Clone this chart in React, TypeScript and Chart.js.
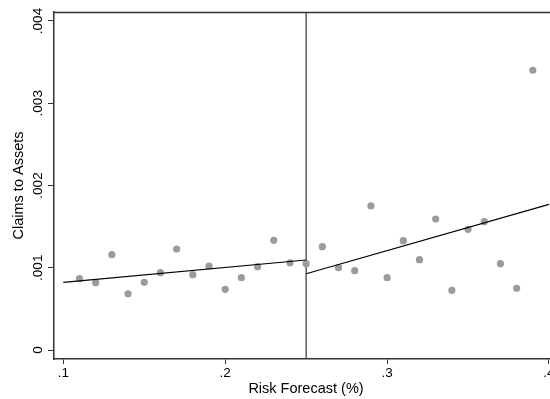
import React, { useEffect, useRef } from "react";
import { Chart, registerables } from "chart.js";

Chart.register(...registerables);

const riskForecast = [
  0.11, 0.12, 0.13, 0.14, 0.15, 0.16, 0.17, 0.18, 0.19, 0.2,
  0.21, 0.22, 0.23, 0.24, 0.25, 0.26, 0.27, 0.28, 0.29, 0.3,
  0.31, 0.32, 0.33, 0.34, 0.35, 0.36, 0.37, 0.38, 0.39,
];
const claimsToAssets = [
  0.000867, 0.000818, 0.001159, 0.000684, 0.000823, 0.00094, 0.001228, 0.000916, 0.001021, 0.000738,
  0.000879, 0.001013, 0.001334, 0.001061, 0.001049, 0.001256, 0.001001, 0.000964, 0.001754, 0.000879,
  0.001329, 0.001098, 0.001593, 0.000726, 0.001467, 0.00156, 0.001049, 0.00075, 0.003401,
];
const fitLeftX = [0.1, 0.25];
const fitLeftY = [0.000822, 0.001094];
const fitRightX = [0.25, 0.4];
const fitRightY = [0.000927, 0.001771];
const cutoffX = 0.25;
const xTicks = [0.1, 0.2, 0.3, 0.4];
const xTickLabels = [".1", ".2", ".3", ".4"];
const yTicks = [0, 0.001, 0.002, 0.003, 0.004];
const yTickLabels = ["0", ".001", ".002", ".003", ".004"];
const xTitle = "Risk Forecast (%)";
const yTitle = "Claims to Assets";

const X_MIN = 0.094256;
const X_MAX = 0.40556;
const Y_MIN = -0.0001094;
const Y_MAX = 0.0041094;

const CANVAS_W = 566;
const CANVAS_H = 399;

const FONT = '"Liberation Sans", Arial, sans-serif';
const AXIS = "#333333";

const framePlugin = {
  id: "frame",
  afterDraw(chart: any) {
    const { ctx, chartArea, scales } = chart;
    ctx.save();
    ctx.strokeStyle = AXIS;
    ctx.lineWidth = 1.5;
    ctx.beginPath();
    ctx.moveTo(chartArea.left, chartArea.top + 0.5);
    ctx.lineTo(chartArea.right, chartArea.top + 0.5);
    ctx.stroke();
    const ys = scales.y;
    ctx.fillStyle = "#000";
    ctx.font = `13.5px ${FONT}`;
    ctx.textAlign = "center";
    ctx.textBaseline = "middle";
    yTicks.forEach((v, i) => {
      const py = ys.getPixelForValue(v);
      ctx.save();
      ctx.translate(38, py);
      ctx.rotate(-Math.PI / 2);
      ctx.fillText(yTickLabels[i], 0, 0);
      ctx.restore();
    });
    ctx.restore();
  },
};

export default function App() {
  const ref = useRef<HTMLCanvasElement | null>(null);
  useEffect(() => {
    if (!ref.current) return;
    const chart = new Chart(ref.current, {
      type: "scatter",
      data: {
        datasets: [
          {
            type: "line",
            data: [
              { x: cutoffX, y: Y_MIN },
              { x: cutoffX, y: Y_MAX },
            ],
            borderColor: AXIS,
            borderWidth: 1.2,
            pointRadius: 0,
            showLine: true,
            order: 3,
          } as any,
          {
            type: "scatter",
            data: riskForecast.map((x, i) => ({ x, y: claimsToAssets[i] })),
            backgroundColor: "#9b9b9b",
            borderWidth: 0,
            pointRadius: 3.6,
            pointHoverRadius: 3.6,
            order: 2,
          },
          {
            type: "line",
            data: fitLeftX.map((x, i) => ({ x, y: fitLeftY[i] })),
            borderColor: "#000",
            borderWidth: 1.2,
            pointRadius: 0,
            showLine: true,
            order: 1,
          } as any,
          {
            type: "line",
            data: fitRightX.map((x, i) => ({ x, y: fitRightY[i] })),
            borderColor: "#000",
            borderWidth: 1.2,
            pointRadius: 0,
            showLine: true,
            order: 1,
          } as any,
        ],
      },
      options: {
        responsive: false,
        animation: false,
        events: [],
        layout: { padding: { top: 12, left: 0, right: 8, bottom: 0 } },
        plugins: {
          legend: { display: false },
          tooltip: { enabled: false },
        },
        scales: {
          x: {
            type: "linear",
            position: "bottom",
            min: X_MIN,
            max: X_MAX,
            afterBuildTicks: (s: any) => {
              s.ticks = xTicks.map((v) => ({ value: v }));
            },
            afterFit: (s: any) => {
              s.height = 40;
              s.paddingLeft = 0;
              s.paddingRight = 0;
            },
            ticks: {
              autoSkip: false,
              maxRotation: 0,
              minRotation: 0,
              padding: 1,
              color: "#000",
              font: { family: FONT, size: 13.5 },
              callback: (v: any) => {
                const i = xTicks.findIndex((t) => Math.abs(t - v) < 1e-9);
                return i >= 0 ? xTickLabels[i] : "";
              },
            },
            grid: {
              drawOnChartArea: false,
              drawTicks: true,
              tickLength: 5,
              color: AXIS,
              lineWidth: 1,
            },
            border: { display: true, color: AXIS, width: 1.5 },
            title: {
              display: true,
              text: xTitle,
              color: "#000",
              font: { family: FONT, size: 14.5 },
              padding: { top: 0, bottom: 1.5 },
            },
          },
          y: {
            type: "linear",
            position: "left",
            min: Y_MIN,
            max: Y_MAX,
            afterBuildTicks: (s: any) => {
              s.ticks = yTicks.map((v) => ({ value: v }));
            },
            afterFit: (s: any) => {
              s.width = 54;
              s.paddingTop = 0;
              s.paddingBottom = 0;
            },
            ticks: { display: false },
            grid: {
              drawOnChartArea: false,
              drawTicks: true,
              tickLength: 6,
              color: AXIS,
              lineWidth: 1,
            },
            border: { display: true, color: AXIS, width: 1.5 },
            title: {
              display: true,
              text: yTitle,
              color: "#000",
              font: { family: FONT, size: 14.5 },
              padding: { top: 10, bottom: 0 },
            },
          },
        },
      },
      plugins: [framePlugin],
    });
    return () => chart.destroy();
  }, []);
  return (
    <div
      style={{
        position: "fixed",
        left: 0,
        top: 0,
        width: 550,
        height: 399,
        overflow: "hidden",
        background: "#fff",
      }}
    >
      <canvas ref={ref} width={CANVAS_W} height={CANVAS_H} style={{ display: "block" }} />
    </div>
  );
}
